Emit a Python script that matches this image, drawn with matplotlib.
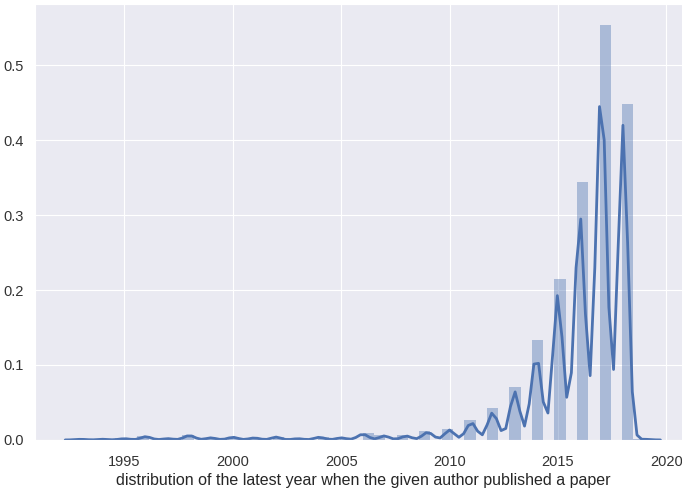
import numpy as np
import matplotlib
matplotlib.use("Agg")
import matplotlib.pyplot as plt
import seaborn as sns

# Share of authors by the latest year in which they published a paper
years = list(range(1993, 2020))
share = [0.0005, 0.0005, 0.0010, 0.0026, 0.0010, 0.0036, 0.0016, 0.0021,
         0.0016, 0.0021, 0.0010, 0.0021, 0.0016, 0.0047, 0.0031, 0.0031,
         0.0062, 0.0073, 0.0140, 0.0218, 0.0369, 0.0692, 0.1118, 0.1784,
         0.2876, 0.2324, 0.0005]

xlabel = "distribution of the latest year when the given author published a paper"
xticks = [1995, 2000, 2005, 2010, 2015, 2020]
yticks = [0.0, 0.1, 0.2, 0.3, 0.4, 0.5]

sns.set_style("darkgrid")
plt.rcParams["font.family"] = ["Liberation Sans", "DejaVu Sans"]

color = "#4C72B0"
fig = plt.figure(figsize=(6.82, 4.91), dpi=100)
ax = fig.add_axes([0.052, 0.104, 0.96, 0.888])

x = np.asarray(years, dtype=float)
w = np.asarray(share, dtype=float)
w = w / w.sum()

# Histogram (density) with 50 bins over the data range
ax.hist(x, bins=50, weights=w, density=True, color=color, alpha=0.4,
        edgecolor="none")

# Gaussian KDE on a 128-point grid with linear binning
bw = 0.22
cut = 3.3
a, b = x.min() - cut * bw, x.max() + cut * bw
grid = np.linspace(a, b, 128)
delta = grid[1] - grid[0]
binned = np.zeros_like(grid)
pos = (x - a) / delta
idx = np.floor(pos).astype(int)
frac = pos - idx
np.add.at(binned, idx, w * (1 - frac))
np.add.at(binned, np.minimum(idx + 1, len(grid) - 1), w * frac)
diff = grid[:, None] - grid[None, :]
kern = np.exp(-0.5 * (diff / bw) ** 2) / (np.sqrt(2 * np.pi) * bw)
dens = kern @ binned
ax.plot(grid, dens, color=color, lw=2)

ax.set_xticks(xticks)
ax.set_yticks(yticks)
ax.set_yticklabels([f"{v:.1f}" for v in yticks])
ax.tick_params(axis="x", labelsize=10.5, colors="#333333", pad=7)
ax.tick_params(axis="y", labelsize=10.5, colors="#333333", pad=5)
ax.set_xlabel(xlabel, fontsize=11.5, color="#262626", labelpad=3)

fig.savefig("out.png", dpi=100)
